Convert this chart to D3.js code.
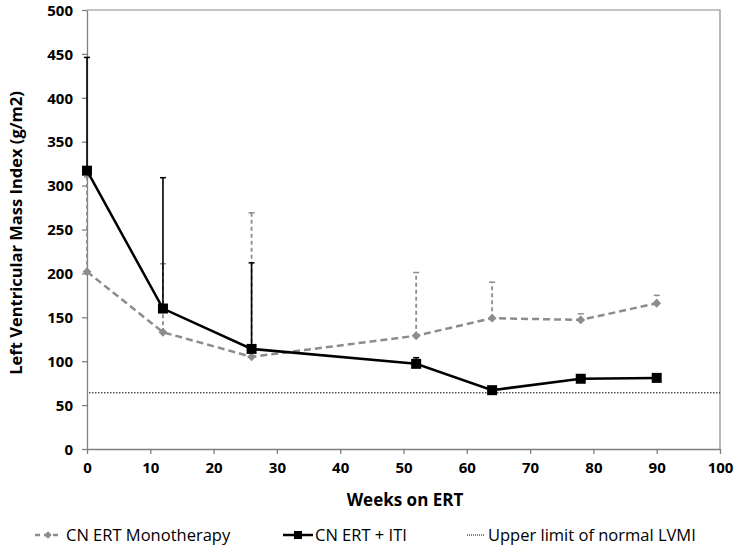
<!DOCTYPE html>
<html>
<head>
<meta charset="utf-8">
<script src="https://cdn.jsdelivr.net/npm/d3@7"></script>
<style>
body { margin: 0; background: #fff; }
text { font-family: "Open Sans", sans-serif; }
</style>
</head>
<body>
<svg id="chart" width="737" height="549"></svg>
<script>
// data
const weeks = [0, 12, 26, 52, 64, 78, 90];
const monoValues = [202, 133, 105, 129, 149, 147, 166];
const monoUpper = [310, 211, 269, 201, 190, 154, 175];
const itiValues = [317, 160, 114, 97, 67, 80, 81];
const itiUpper = [446, 309, 212, 104, 67, 80, 81];
const normalLimit = 64;
const xTicks = [0, 10, 20, 30, 40, 50, 60, 70, 80, 90, 100];
const yTicks = [0, 50, 100, 150, 200, 250, 300, 350, 400, 450, 500];

const svg = d3.select('#chart');
const x = d3.scaleLinear().domain([0, 100]).range([87, 720]);
const y = d3.scaleLinear().domain([0, 500]).range([449, 10]);

// plot border (top and right)
svg.append('path')
    .attr('d', 'M' + x(0) + ',' + y(500) + 'H' + x(100) + 'V' + y(0))
    .attr('fill', 'none')
    .attr('stroke', '#8a8a8a')
    .attr('stroke-width', 1.2);

// axes
const xAxis = svg.append('g')
    .attr('transform', 'translate(0,' + y(0) + ')')
    .call(d3.axisBottom(x).tickValues(xTicks).tickSize(5).tickSizeOuter(0).tickPadding(6));
const yAxis = svg.append('g')
    .attr('transform', 'translate(' + x(0) + ',0)')
    .call(d3.axisLeft(y).tickValues(yTicks).tickSize(5).tickSizeOuter(0).tickPadding(9));
[xAxis, yAxis].forEach(g => {
    g.select('.domain').attr('stroke', '#7f7f7f').attr('stroke-width', 1.3);
    g.selectAll('.tick line').attr('stroke', '#7f7f7f').attr('stroke-width', 1.3);
    g.selectAll('.tick text')
        .attr('fill', '#000')
        .style('font-size', '15px')
        .style('font-weight', 'bold')
        .style('font-family', '"Open Sans", sans-serif');
});
xAxis.selectAll('.tick text').attr('dy', '0.85em');
yAxis.selectAll('.tick text').attr('dy', '0.35em');

// normal limit line
svg.append('line')
    .attr('x1', x(0) + 2).attr('x2', x(100))
    .attr('y1', y(normalLimit)).attr('y2', y(normalLimit))
    .attr('stroke', '#000')
    .attr('stroke-width', 1)
    .attr('stroke-dasharray', '1.5,1.5');

const mono = weeks.map((w, i) => ({x: w, y: monoValues[i], up: monoUpper[i]}));
const iti = weeks.map((w, i) => ({x: w, y: itiValues[i], up: itiUpper[i]}));

const line = d3.line().x(d => x(d.x)).y(d => y(d.y));

// error bars
function errorBars(data, color, dash, width) {
    const g = svg.append('g');
    data.filter(d => d.up > d.y).forEach(d => {
        g.append('line')
            .attr('x1', x(d.x)).attr('x2', x(d.x))
            .attr('y1', y(d.y)).attr('y2', y(d.up))
            .attr('stroke', color).attr('stroke-width', width)
            .attr('stroke-dasharray', dash);
        g.append('line')
            .attr('x1', x(d.x) - 3).attr('x2', x(d.x) + 3)
            .attr('y1', y(d.up)).attr('y2', y(d.up))
            .attr('stroke', color).attr('stroke-width', 1.5);
    });
}
errorBars(mono, '#8c8c8c', '4,3', 1.8);
errorBars(iti, '#000', null, 1.6);

// mono series
svg.append('path').datum(mono)
    .attr('d', line)
    .attr('fill', 'none')
    .attr('stroke', '#8c8c8c')
    .attr('stroke-width', 2.5)
    .attr('stroke-dasharray', '7,4');
svg.selectAll('.diamond').data(mono).enter().append('path')
    .attr('d', d3.symbol(d3.symbolDiamond2, 50))
    .attr('transform', d => 'translate(' + x(d.x) + ',' + y(d.y) + ')')
    .attr('fill', '#8c8c8c');

// iti series
svg.append('path').datum(iti)
    .attr('d', line)
    .attr('fill', 'none')
    .attr('stroke', '#000')
    .attr('stroke-width', 2.5);
svg.selectAll('.square').data(iti).enter().append('rect')
    .attr('x', d => x(d.x) - 5).attr('y', d => y(d.y) - 5)
    .attr('width', 10).attr('height', 10)
    .attr('fill', '#000');

// axis titles
svg.append('text')
    .attr('x', 405).attr('y', 506)
    .attr('text-anchor', 'middle')
    .style('font-size', '17px').style('font-weight', 'bold')
    .text('Weeks on ERT');
svg.append('text')
    .attr('transform', 'translate(22,233) rotate(-90)')
    .attr('text-anchor', 'middle')
    .style('font-size', '16.5px').style('font-weight', 'bold')
    .text('Left Ventricular Mass Index (g/m2)');

// legend
const lg = svg.append('g').attr('transform', 'translate(0,535)');
lg.append('line').attr('x1', 35).attr('x2', 60).attr('y1', 0).attr('y2', 0)
    .attr('stroke', '#8c8c8c').attr('stroke-width', 2.5).attr('stroke-dasharray', '5,4');
lg.append('path').attr('d', d3.symbol(d3.symbolDiamond2, 35))
    .attr('transform', 'translate(48,0)').attr('fill', '#8c8c8c');
lg.append('text').attr('x', 66).attr('y', 0).attr('dy', '0.35em')
    .style('font-size', '16.5px').text('CN ERT Monotherapy');

lg.append('line').attr('x1', 283).attr('x2', 313).attr('y1', 0).attr('y2', 0)
    .attr('stroke', '#000').attr('stroke-width', 2.5);
lg.append('rect').attr('x', 294).attr('y', -4).attr('width', 8).attr('height', 8).attr('fill', '#000');
lg.append('text').attr('x', 315).attr('y', 0).attr('dy', '0.35em')
    .style('font-size', '16.5px').text('CN ERT + ITI');

lg.append('line').attr('x1', 467).attr('x2', 484).attr('y1', 0).attr('y2', 0)
    .attr('stroke', '#000').attr('stroke-width', 1).attr('stroke-dasharray', '1,1');
lg.append('text').attr('x', 488).attr('y', 0).attr('dy', '0.35em')
    .style('font-size', '16.5px').text('Upper limit of normal LVMI');
</script>
</body>
</html>
